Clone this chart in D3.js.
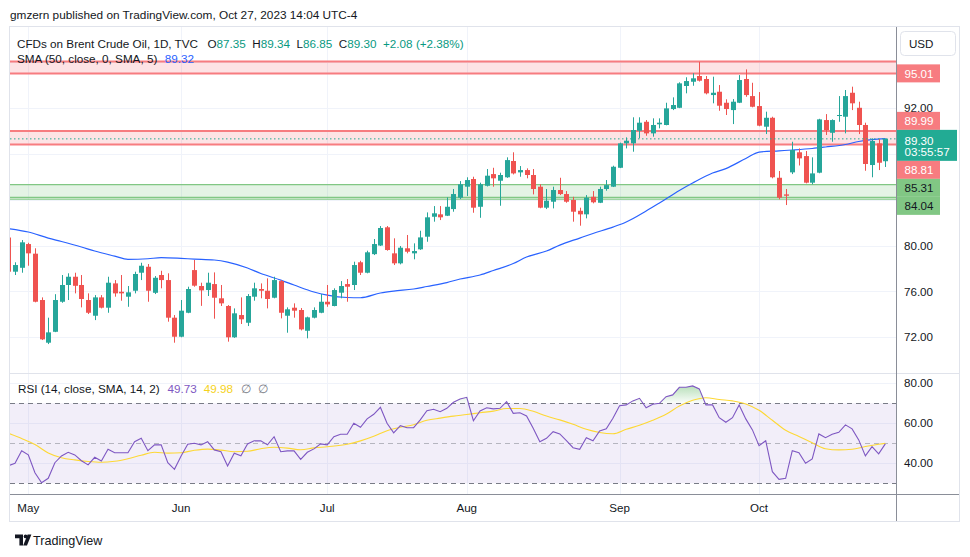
<!DOCTYPE html>
<html><head><meta charset="utf-8">
<script src="https://cdn.jsdelivr.net/npm/d3@7"></script>
<style>
html,body{margin:0;padding:0;background:#fff;overflow:hidden}
svg{display:block}
text{font-family:"Liberation Sans",Arial,sans-serif}
</style></head><body>
<svg id="chart" width="970" height="557"></svg>
<script>
// ---------------- DATA ----------------
const dates = [
"2023-04-26","2023-04-27","2023-04-28",
"2023-05-01","2023-05-02","2023-05-03","2023-05-04","2023-05-05","2023-05-08","2023-05-09","2023-05-10","2023-05-11","2023-05-12","2023-05-15","2023-05-16","2023-05-17","2023-05-18","2023-05-19","2023-05-22","2023-05-23","2023-05-24","2023-05-25","2023-05-26","2023-05-29","2023-05-30","2023-05-31",
"2023-06-01","2023-06-02","2023-06-05","2023-06-06","2023-06-07","2023-06-08","2023-06-09","2023-06-12","2023-06-13","2023-06-14","2023-06-15","2023-06-16","2023-06-19","2023-06-20","2023-06-21","2023-06-22","2023-06-23","2023-06-26","2023-06-27","2023-06-28","2023-06-29","2023-06-30",
"2023-07-03","2023-07-04","2023-07-05","2023-07-06","2023-07-07","2023-07-10","2023-07-11","2023-07-12","2023-07-13","2023-07-14","2023-07-17","2023-07-18","2023-07-19","2023-07-20","2023-07-21","2023-07-24","2023-07-25","2023-07-26","2023-07-27","2023-07-28","2023-07-31",
"2023-08-01","2023-08-02","2023-08-03","2023-08-04","2023-08-07","2023-08-08","2023-08-09","2023-08-10","2023-08-11","2023-08-14","2023-08-15","2023-08-16","2023-08-17","2023-08-18","2023-08-21","2023-08-22","2023-08-23","2023-08-24","2023-08-25","2023-08-28","2023-08-29","2023-08-30","2023-08-31",
"2023-09-01","2023-09-04","2023-09-05","2023-09-06","2023-09-07","2023-09-08","2023-09-11","2023-09-12","2023-09-13","2023-09-14","2023-09-15","2023-09-18","2023-09-19","2023-09-20","2023-09-21","2023-09-22","2023-09-25","2023-09-26","2023-09-27","2023-09-28","2023-09-29",
"2023-10-02","2023-10-03","2023-10-04","2023-10-05","2023-10-06","2023-10-09","2023-10-10","2023-10-11","2023-10-12","2023-10-13","2023-10-16","2023-10-17","2023-10-18","2023-10-19","2023-10-20","2023-10-23","2023-10-24","2023-10-25","2023-10-26","2023-10-27"];

const open = [80.70,77.72,78.06,
80.13,79.29,75.25,71.53,72.48,75.10,76.56,77.28,76.56,75.25,73.88,75.48,74.58,76.70,75.97,75.54,76.06,77.63,78.15,75.88,77.43,76.99,73.71,
72.05,74.14,77.86,76.47,76.12,76.64,75.40,74.73,72.00,73.94,73.27,75.54,76.21,76.06,75.45,76.90,73.88,74.58,74.38,72.57,73.71,74.14,
75.10,74.73,75.89,76.64,76.56,78.54,77.63,79.25,80.00,81.59,79.32,78.45,79.76,79.32,79.67,80.77,82.51,82.72,82.60,83.18,84.17,
85.13,85.80,83.38,85.21,86.23,85.65,85.95,87.37,86.38,86.58,86.15,85.13,83.30,83.82,84.84,84.49,83.97,83.03,82.72,84.25,83.73,84.93,85.13,
86.78,88.91,88.91,90.01,90.79,89.78,90.57,90.51,91.90,92.01,93.91,94.28,94.78,94.52,93.12,93.41,92.45,91.81,92.45,94.52,93.03,
92.16,90.36,91.14,85.91,84.46,86.38,88.13,87.80,85.48,86.35,90.94,89.83,91.35,91.23,93.32,92.01,90.51,87.02,88.91,87.35];

const high = [80.90,78.54,80.48,
80.24,79.76,75.48,73.71,75.76,77.43,77.58,77.63,77.43,75.83,75.68,75.68,77.28,76.99,77.43,76.47,77.72,78.50,78.39,77.34,77.80,77.58,73.94,
75.25,76.41,78.74,76.76,77.63,77.66,76.56,74.81,74.52,75.48,75.77,76.76,76.70,77.14,77.28,76.99,74.61,74.96,74.55,73.80,74.61,75.77,
76.56,76.27,76.90,77.08,78.59,78.67,79.55,80.57,81.70,81.70,80.63,79.96,80.92,80.19,81.29,82.89,83.44,83.44,84.20,84.93,85.62,
85.95,86.00,85.48,86.67,86.78,86.35,87.69,88.13,86.93,86.73,86.67,85.34,84.93,85.13,85.91,84.75,84.25,83.30,84.40,84.75,85.13,85.71,86.96,
88.97,89.43,91.18,91.18,90.94,91.09,91.09,92.45,92.92,94.23,94.67,95.02,96.02,94.78,94.72,93.99,92.75,92.77,94.86,95.36,94.19,
93.38,91.67,91.23,86.50,84.93,89.05,88.47,88.24,87.69,91.05,91.46,91.00,93.03,93.56,93.85,92.54,90.71,89.35,89.29,89.34];

const low = [77.50,77.43,77.63,
78.24,75.05,71.76,71.41,72.45,75.01,75.25,75.83,74.61,74.03,73.50,74.52,74.14,75.54,75.19,74.66,75.83,76.99,75.10,75.77,76.27,73.36,71.53,
72.00,74.10,76.41,74.74,75.60,73.62,74.73,71.62,71.95,73.16,72.98,75.19,75.40,74.52,75.40,73.65,72.40,73.71,72.60,71.91,73.65,74.10,
74.66,74.70,75.40,75.10,76.12,77.43,77.58,79.17,79.96,79.55,78.30,78.36,79.32,78.80,79.62,80.33,82.08,82.22,82.57,82.95,84.05,
84.32,82.86,82.42,85.15,85.13,83.47,85.90,86.20,86.00,85.86,84.46,83.25,83.18,83.24,84.40,83.73,82.08,81.73,82.37,83.68,83.70,84.78,85.10,
86.75,88.47,88.18,89.35,89.57,89.49,90.22,90.48,91.81,91.98,93.27,93.93,94.30,93.18,92.40,91.75,91.38,90.59,92.42,92.97,92.05,
90.40,89.72,85.86,84.03,83.53,86.23,86.98,85.42,85.34,86.30,89.64,89.05,90.79,89.78,91.81,89.72,86.52,85.95,86.58,86.85];

const close = [77.72,78.30,80.28,
79.32,75.10,71.82,72.43,75.25,76.56,77.28,76.49,75.34,74.14,75.48,74.58,76.76,75.83,75.83,75.92,77.52,78.24,76.06,77.19,76.99,73.71,72.05,
74.32,76.21,76.50,76.09,76.76,75.45,74.96,72.00,74.09,73.57,75.60,76.27,76.06,75.34,76.99,74.14,74.44,74.32,72.69,73.74,74.38,75.10,
74.87,76.12,76.47,76.41,78.30,77.63,79.41,80.13,81.53,79.61,78.45,79.81,79.46,79.52,80.71,82.46,82.81,82.46,83.38,84.49,85.34,
85.71,83.30,85.34,86.09,85.86,86.15,87.45,86.29,86.58,86.15,84.93,83.30,83.91,84.84,84.49,83.82,82.95,82.72,84.17,83.77,84.93,85.27,86.87,
88.91,89.14,90.07,90.71,89.78,90.51,90.71,91.96,92.25,94.14,94.34,94.58,94.37,93.27,93.32,92.19,91.90,92.54,94.43,93.12,92.10,
90.45,91.14,85.95,84.17,84.34,88.33,87.60,85.48,86.29,91.00,90.07,90.94,91.38,93.03,92.40,90.51,87.11,89.11,87.22,89.30];

const rsi = [38.8,40.0,46.3,
44.2,35.3,30.3,32.5,40.3,43.7,45.5,44.2,41.3,39.2,43.0,41.2,47.0,45.3,45.3,45.3,50.8,52.5,46.3,49.2,49.2,40.3,37.0,
43.7,49.5,50.0,49.2,50.8,46.7,45.8,38.7,45.0,43.8,49.7,51.3,51.2,49.2,53.3,45.8,46.2,46.2,42.0,45.5,47.2,49.7,
49.2,53.3,54.5,54.5,60.0,58.0,62.2,64.5,68.0,60.0,55.2,58.8,57.8,57.8,61.7,66.3,67.0,65.8,67.5,70.5,72.2,
73.0,61.3,66.2,67.8,67.2,67.5,70.8,65.0,65.3,63.7,57.5,50.8,52.5,55.8,54.7,51.3,47.8,47.0,52.8,51.3,56.2,57.2,62.5,
68.8,69.2,71.2,72.5,67.8,69.5,70.0,73.3,74.2,78.0,78.0,78.7,77.2,69.2,69.2,62.8,60.5,62.8,69.2,62.2,56.7,
48.8,51.3,35.8,32.0,32.5,46.3,45.3,40.0,42.2,54.7,52.8,54.5,55.5,59.2,57.2,51.7,43.7,48.3,44.7,49.73];

const smaDates = ["2023-04-26","2023-05-01","2023-05-04","2023-05-08","2023-05-11","2023-05-15","2023-05-18","2023-05-22","2023-05-25","2023-05-29","2023-06-01","2023-06-05","2023-06-08","2023-06-12","2023-06-15","2023-06-19","2023-06-22","2023-06-26","2023-06-29","2023-07-03","2023-07-06","2023-07-10","2023-07-13","2023-07-17","2023-07-20","2023-07-24","2023-07-27","2023-07-31","2023-08-03","2023-08-07","2023-08-10","2023-08-14","2023-08-17","2023-08-21","2023-08-24","2023-08-28","2023-08-31","2023-09-04","2023-09-07","2023-09-11","2023-09-14","2023-09-18","2023-09-21","2023-09-25","2023-09-28","2023-10-02","2023-10-05","2023-10-09","2023-10-12","2023-10-16","2023-10-19","2023-10-23","2023-10-25","2023-10-27"];
const smaValues = [81.48,81.18,80.65,80.35,79.87,79.52,79.08,78.80,78.85,78.94,78.88,78.82,78.74,78.56,78.04,77.56,76.99,76.56,75.95,75.68,75.47,75.45,75.86,76.03,76.21,76.43,76.77,77.08,77.43,77.82,78.43,79.00,79.52,80.04,80.65,81.05,81.61,82.05,83.01,83.71,84.80,85.45,86.32,86.71,87.59,88.15,88.26,88.33,88.46,88.59,88.81,89.07,89.24,89.32];

const rsiMaDates = ["2023-04-26","2023-04-28","2023-05-02","2023-05-04","2023-05-08","2023-05-10","2023-05-12","2023-05-16","2023-05-18","2023-05-22","2023-05-24","2023-05-26","2023-05-30","2023-06-01","2023-06-05","2023-06-07","2023-06-09","2023-06-13","2023-06-15","2023-06-19","2023-06-21","2023-06-23","2023-06-27","2023-06-29","2023-07-03","2023-07-06","2023-07-10","2023-07-12","2023-07-14","2023-07-18","2023-07-20","2023-07-24","2023-07-26","2023-07-28","2023-08-01","2023-08-03","2023-08-07","2023-08-09","2023-08-11","2023-08-15","2023-08-17","2023-08-21","2023-08-23","2023-08-25","2023-08-29","2023-08-31","2023-09-04","2023-09-06","2023-09-08","2023-09-12","2023-09-14","2023-09-18","2023-09-20","2023-09-22","2023-09-26","2023-09-28","2023-10-02","2023-10-04","2023-10-06","2023-10-10","2023-10-12","2023-10-16","2023-10-18","2023-10-20","2023-10-24","2023-10-26","2023-10-27"];
const rsiMaValues = [55.0,52.4,49.4,45.2,42.8,41.7,40.9,40.5,41.0,42.3,44.0,45.5,45.1,45.3,46.5,47.1,46.6,45.8,46.0,47.3,48.0,47.6,46.8,47.7,48.3,49.5,51.2,53.5,56.3,58.0,59.3,61.5,62.6,63.6,64.4,65.3,66.1,67.4,67.4,66.0,63.6,61.7,59.5,57.0,55.4,54.8,57.0,59.0,61.5,64.5,68.6,71.5,72.8,71.9,71.2,69.7,66.5,61.5,56.5,53.4,50.3,47.3,46.7,47.0,48.4,49.5,49.98];

const priceGrid = [72,76,80,84,88,92,96];
const priceTickLabels = [72,76,80,92];
const rsiGrid = [40,60,80];
const rsiTickLabels = [40,60,80];
const monthTicks = ["2023-05-01","2023-06-01","2023-07-03","2023-08-01","2023-09-01","2023-10-02"];
const monthLabels = ["May","Jun","Jul","Aug","Sep","Oct"];

const redZones = [[96.05,95.01],[89.99,88.81]];
const greenZones = [[85.31,84.20]];
const greenLines = [84.04];
const lastPrice = 89.30;
const countdown = "03:55:57";
const smaLast = 89.32;
const rsiLast = 49.73, rsiMaLast = 49.98;
const priceLabels = [
  {p:95.01, kind:"red"},
  {p:89.99, kind:"red"},
  {p:89.30, kind:"last"},
  {p:88.81, kind:"red"},
  {p:85.31, kind:"green"},
  {p:84.04, kind:"green"}
];

// ---------------- DRAW ----------------
const C = {text:"#131722", grid:"#f0f3fa", frame:"#e0e3eb", axis:"#8a8e98",
  up:"#26a69a", down:"#ef5350", sma:"#2962ff", rsi:"#7e57c2", rsiMa:"#fdd835",
  red:"#f77c80", redFill:"rgba(242,54,69,0.14)", green:"#81c784", greenFill:"rgba(76,175,80,0.15)",
  last:"#22ab94", legendVal:"#089981"};
const FONT = 11.7, AFONT = 11.6;
const L = 10, R = 896, RA = 959, T = 27, P1 = 373.5, P2 = 494, B = 521;

const svg = d3.select("#chart");
svg.append("rect").attr("width",970).attr("height",557).attr("fill","#fff");

const x = d3.scalePoint().domain(dates).range([8.37, 885.3]);
const y = d3.scaleLinear().domain([72,92]).range([337.3,107.9]);
const ry = d3.scaleLinear().domain([40,80]).range([463.3,383.3]);
const px = v => Math.round(v) + 0.5;

const defs = svg.append("defs");
defs.append("clipPath").attr("id","cp1").append("rect").attr("x",L).attr("y",T).attr("width",R-L).attr("height",P1-T);
defs.append("clipPath").attr("id","cp2").append("rect").attr("x",L).attr("y",P1).attr("width",R-L).attr("height",P2-P1);
defs.append("clipPath").attr("id","cpOB").append("rect").attr("x",L).attr("y",P1).attr("width",R-L).attr("height",ry(70)-P1);
const grad = defs.append("linearGradient").attr("id","obGrad").attr("gradientUnits","userSpaceOnUse")
  .attr("x1",0).attr("x2",0).attr("y1",ry(80)).attr("y2",ry(70));
grad.append("stop").attr("offset",0).attr("stop-color","rgba(76,175,80,0.45)");
grad.append("stop").attr("offset",1).attr("stop-color","rgba(76,175,80,0.02)");

// grids
const gH = svg.append("g");
gH.selectAll("line").data(priceGrid).join("line")
  .attr("x1",L).attr("x2",R).attr("y1",d=>px(y(d))).attr("y2",d=>px(y(d))).attr("stroke",C.grid);
const gHR = svg.append("g");
gHR.selectAll("line").data(rsiGrid).join("line")
  .attr("x1",L).attr("x2",R).attr("y1",d=>px(ry(d))).attr("y2",d=>px(ry(d))).attr("stroke",C.grid);
const gV = svg.append("g");
gV.selectAll("line").data(monthTicks).join("line")
  .attr("x1",d=>px(x(d))).attr("x2",d=>px(x(d))).attr("y1",T).attr("y2",P2).attr("stroke",C.grid);

// zones (price pane)
const pane = svg.append("g").attr("clip-path","url(#cp1)");
redZones.forEach(z => {
  pane.append("rect").attr("x",L).attr("width",R-L).attr("y",y(z[0])).attr("height",y(z[1])-y(z[0])).attr("fill",C.redFill);
  z.forEach(v => pane.append("line").attr("x1",L).attr("x2",R).attr("y1",y(v)).attr("y2",y(v)).attr("stroke",C.red).attr("stroke-width",2));
});
greenZones.forEach(z => {
  pane.append("rect").attr("x",L).attr("width",R-L).attr("y",y(z[0])).attr("height",y(z[1])-y(z[0])).attr("fill",C.greenFill);
  z.forEach(v => pane.append("line").attr("x1",L).attr("x2",R).attr("y1",y(v)).attr("y2",y(v)).attr("stroke",C.green).attr("stroke-width",1.3));
});
greenLines.forEach(v => pane.append("line").attr("x1",L).attr("x2",R).attr("y1",y(v)).attr("y2",y(v)).attr("stroke",C.green).attr("stroke-width",1.3));

// SMA
const smaData = smaDates.map((d,i)=>({d, v:smaValues[i]}));
pane.append("path").datum(smaData)
  .attr("d", d3.line().x(d=>x(d.d)).y(d=>y(d.v)).curve(d3.curveMonotoneX))
  .attr("fill","none").attr("stroke",C.sma).attr("stroke-width",1.2);

// candles
const bars = dates.map((d,i)=>({d, o:open[i], h:high[i], l:low[i], c:close[i]}));
const cg = pane.append("g");
cg.selectAll("line").data(bars).join("line")
  .attr("x1",d=>px(x(d.d))).attr("x2",d=>px(x(d.d)))
  .attr("y1",d=>y(d.h)).attr("y2",d=>y(d.l))
  .attr("stroke",d=>d.c>=d.o?C.up:C.down);
cg.selectAll("rect").data(bars).join("rect")
  .attr("x",d=>Math.round(x(d.d))-2).attr("width",5)
  .attr("y",d=>y(Math.max(d.o,d.c)))
  .attr("height",d=>Math.max(1, y(Math.min(d.o,d.c))-y(Math.max(d.o,d.c))))
  .attr("fill",d=>d.c>=d.o?C.up:C.down);

// last price dotted line
pane.append("line").attr("x1",L).attr("x2",R).attr("y1",y(lastPrice)).attr("y2",y(lastPrice))
  .attr("stroke",C.last).attr("stroke-width",1).attr("stroke-dasharray","1.5,2.5");

// RSI pane
const rp = svg.append("g").attr("clip-path","url(#cp2)");
rp.append("rect").attr("x",L).attr("width",R-L).attr("y",ry(70)).attr("height",ry(30)-ry(70)).attr("fill","rgba(126,87,194,0.1)");
rp.append("line").attr("x1",L).attr("x2",R).attr("y1",px(ry(70))).attr("y2",px(ry(70))).attr("stroke","#787b86").attr("stroke-dasharray","5,4");
rp.append("line").attr("x1",L).attr("x2",R).attr("y1",px(ry(30))).attr("y2",px(ry(30))).attr("stroke","#787b86").attr("stroke-dasharray","5,4");
rp.append("line").attr("x1",L).attr("x2",R).attr("y1",px(ry(50))).attr("y2",px(ry(50))).attr("stroke","rgba(120,123,134,0.5)").attr("stroke-dasharray","5,4");
const rsiData = dates.map((d,i)=>({d, v:rsi[i]}));
rp.append("g").attr("clip-path","url(#cpOB)").append("path").datum(rsiData)
  .attr("d", d3.area().x(d=>x(d.d)).y0(ry(70)).y1(d=>ry(d.v)))
  .attr("fill","url(#obGrad)");
const rmData = rsiMaDates.map((d,i)=>({d, v:rsiMaValues[i]}));
rp.append("path").datum(rmData)
  .attr("d", d3.line().x(d=>x(d.d)).y(d=>ry(d.v)).curve(d3.curveMonotoneX))
  .attr("fill","none").attr("stroke",C.rsiMa).attr("stroke-width",1.1);
rp.append("path").datum(rsiData)
  .attr("d", d3.line().x(d=>x(d.d)).y(d=>ry(d.v)))
  .attr("fill","none").attr("stroke",C.rsi).attr("stroke-width",1.1);

// frame & separators
svg.append("rect").attr("x",L-0.5).attr("y",T-0.5).attr("width",RA-L+1).attr("height",B-T+1).attr("fill","none").attr("stroke",C.frame);
svg.append("line").attr("x1",L).attr("x2",RA).attr("y1",P1).attr("y2",P1).attr("stroke",C.frame);
svg.append("line").attr("x1",L).attr("x2",RA).attr("y1",px(P2)).attr("y2",px(P2)).attr("stroke",C.axis);
svg.append("line").attr("x1",R+0.5).attr("x2",R+0.5).attr("y1",T).attr("y2",B).attr("stroke",C.axis);

// price axis tick labels
svg.append("g").selectAll("text").data(priceTickLabels).join("text")
  .attr("x",904).attr("y",d=>y(d)).attr("dy","0.36em").attr("font-size",AFONT).attr("fill",C.text)
  .text(d=>d3.format(".2f")(d));
svg.append("g").selectAll("text").data(rsiTickLabels).join("text")
  .attr("x",904).attr("y",d=>ry(d)).attr("dy","0.36em").attr("font-size",AFONT).attr("fill",C.text)
  .text(d=>d3.format(".2f")(d));

// colored price labels with stacking
const LH = 18, LH2 = 31;
const lastIdx = priceLabels.findIndex(d=>d.kind==="last");
const boxes = priceLabels.map(d=>{
  const h = d.kind==="last"?LH2:LH;
  const top = d.kind==="last" ? y(d.p)-9 : y(d.p)-LH/2;
  return {...d, h, top};
});
for (let i=lastIdx-1;i>=0;i--){ const nb=boxes[i+1]; if (boxes[i].top+boxes[i].h>nb.top) boxes[i].top=nb.top-boxes[i].h; }
for (let i=lastIdx+1;i<boxes.length;i++){ const pb=boxes[i-1]; if (boxes[i].top<pb.top+pb.h) boxes[i].top=pb.top+pb.h; }
const lg = svg.append("g");
boxes.forEach(b=>{
  const bg = b.kind==="red"?C.red:(b.kind==="green"?C.green:C.last);
  const fg = b.kind==="green"?C.text:"#fff";
  const w = b.kind==="last"?60:43;
  lg.append("rect").attr("x",897).attr("y",b.top).attr("width",w).attr("height",b.h).attr("fill",bg);
  if (b.kind==="last"){
    lg.append("text").attr("x",904.5).attr("y",b.top+10.5).attr("dy","0.36em").attr("font-size",AFONT).attr("fill",fg).text(d3.format(".2f")(b.p));
    lg.append("text").attr("x",904.5).attr("y",b.top+22).attr("dy","0.36em").attr("font-size",AFONT).attr("fill",fg).text(countdown);
  } else {
    lg.append("text").attr("x",904.5).attr("y",b.top+b.h/2).attr("dy","0.36em").attr("font-size",AFONT).attr("fill",fg).text(d3.format(".2f")(b.p));
  }
});

// USD button
svg.append("rect").attr("x",900.5).attr("y",31.5).attr("width",55).attr("height",24).attr("rx",4).attr("fill","#fff").attr("stroke",C.frame);
svg.append("text").attr("x",909).attr("y",44).attr("dy","0.36em").attr("font-size",AFONT).attr("fill",C.text).text("USD");

// time axis
svg.append("g").selectAll("text").data(monthTicks).join("text")
  .attr("x",d=>x(d)).attr("y",508).attr("dy","0.36em").attr("text-anchor","middle")
  .attr("font-size",AFONT).attr("fill",C.text).text((d,i)=>monthLabels[i]);

// legends
function row(x0, yb, parts){
  let cx = x0;
  parts.forEach(p=>{
    const t = svg.append("text").attr("x",cx).attr("y",yb).attr("font-size",p.size||FONT).attr("fill",p.color||C.text).text(p.t);
    cx += t.node().getComputedTextLength() + (p.gap||0);
  });
}
svg.append("text").attr("x",10).attr("y",19).attr("font-size",11.8).attr("fill",C.text)
  .text("gmzern published on TradingView.com, Oct 27, 2023 14:04 UTC-4");
const chg = close[close.length-1]-close[close.length-2];
row(17, 47.5, [
  {t:"CFDs on Brent Crude Oil, 1D, TVC", gap:9.5},
  {t:"O"},{t:d3.format(".2f")(open[open.length-1]), color:C.legendVal, gap:6.5},
  {t:"H"},{t:d3.format(".2f")(high[high.length-1]), color:C.legendVal, gap:6.5},
  {t:"L"},{t:d3.format(".2f")(low[low.length-1]), color:C.legendVal, gap:6.5},
  {t:"C"},{t:d3.format(".2f")(close[close.length-1]), color:C.legendVal, gap:6.5},
  {t:"+2.08", color:C.legendVal, gap:3.3},
  {t:"(+2.38%)", color:C.legendVal}
]);
row(17, 62.5, [
  {t:"SMA (50, close, 0, SMA, 5)", gap:7.5},
  {t:d3.format(".2f")(smaLast), color:C.sma}
]);
row(18, 393, [
  {t:"RSI (14, close, SMA, 14, 2)", gap:8},
  {t:d3.format(".2f")(rsiLast), color:C.rsi, gap:7},
  {t:d3.format(".2f")(rsiMaLast), color:"#f5d21b", gap:8},
  {t:"∅", color:"#787b86", gap:7},
  {t:"∅", color:"#787b86"}
]);

// footer logo
const logo = svg.append("g").attr("fill","#131722");
logo.append("path").attr("d","M15,534.5 h8 v11 h-3.6 v-7.2 h-4.4 z");
logo.append("circle").attr("cx",25.6).attr("cy",536.4).attr("r",1.9);
logo.append("path").attr("d","M27.6,534.5 h3.8 l-4.4,11 h-3.8 z");
svg.append("text").attr("x",33).attr("y",544.5).attr("font-size",12.6).attr("fill",C.text).text("TradingView");
</script>
</body></html>
